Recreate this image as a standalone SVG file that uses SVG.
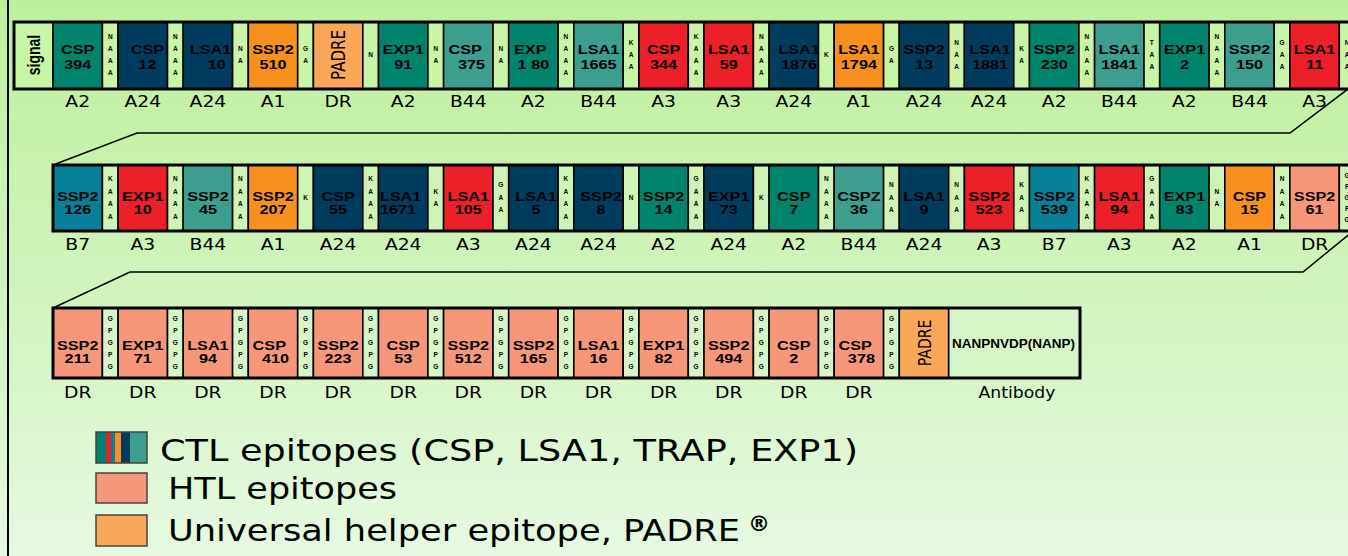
<svg xmlns="http://www.w3.org/2000/svg" width="1348" height="556" viewBox="0 0 1348 556">
<defs>
<linearGradient id="bg" x1="0" y1="0" x2="0" y2="1">
<stop offset="0" stop-color="#bdef9a"/>
<stop offset="0.5" stop-color="#d0f4bc"/>
<stop offset="1" stop-color="#e6f9e2"/>
</linearGradient>
<style>
.c{stroke:#000;stroke-width:1.6}
.teal{fill:#00846e}.lteal{fill:#3b9e8f}.navy{fill:#003c5e}.red{fill:#ec2028}.orange{fill:#f7901e}.padre{fill:#f9a85a}.tblue{fill:#08809a}.salmon{fill:#f7977a}
.s1{fill:#c8f5a6;stroke:#000;stroke-width:1.6}.s2{fill:#cef5b6;stroke:#000;stroke-width:1.6}.s3{fill:#d6f6c8;stroke:#000;stroke-width:1.6}
.frame{fill:none;stroke:#000;stroke-width:3}
.t{font-family:"Liberation Sans",Arial,sans-serif;font-weight:bold;font-size:13px;text-anchor:middle;fill:#000}
.l{font-family:"DejaVu Sans",Verdana,sans-serif;font-size:15px;text-anchor:middle;fill:#000}
.a{font-family:"Liberation Sans",Arial,sans-serif;font-weight:bold;font-size:6.5px;text-anchor:middle;fill:#000}
.v{font-family:"DejaVu Sans",Verdana,sans-serif;font-size:15px;text-anchor:middle;fill:#000}
.lg{font-family:"DejaVu Sans",Verdana,sans-serif;font-size:31px;fill:#000}
.conn{fill:none;stroke:#000;stroke-width:1.5}
</style>
</defs>
<rect x="0" y="0" width="1348" height="556" fill="url(#bg)"/>
<line x1="8" y1="0" x2="8" y2="556" stroke="#000" stroke-width="2"/>

<g id="connectors">
<polyline class="conn" points="1352,86 1290,133 137,133 53,165"/>
<polyline class="conn" points="1352,232 1303,272 130,272 53,308"/>
</g>

<!-- ROW 1 -->
<g id="row1">
<g id="signal"><rect class="s1" x="14" y="22" width="39" height="67"/><text class="t" style="font-size:14px" transform="translate(34.5 55) scale(1.25 1) rotate(-90)" x="0" y="4.5">signal</text></g>
<g id="r1c0"><rect class="c teal" x="53" y="22" width="49.4" height="67"/><text class="t" transform="translate(77.7 0) scale(1.25 1)"><tspan x="0" y="54">CSP</tspan><tspan x="0" y="69">394</tspan></text><text class="l" transform="translate(77.7 0) scale(1.25 1)" x="0" y="107">A2</text></g>
<g id="r1s0"><rect class="s1" x="102.4" y="22" width="15.7" height="67"/><text class="a" x="110.25 110.25 110.25 110.25" y="38.8 50.8 62.8 74.8">NAAA</text></g>
<g id="r1c1"><rect class="c navy" x="118.1" y="22" width="49.4" height="67"/><text class="t" transform="translate(147.5 0) scale(1.25 1)"><tspan x="0" y="54">CSP</tspan><tspan x="0" y="69">12</tspan></text><text class="l" transform="translate(142.8 0) scale(1.25 1)" x="0" y="107">A24</text></g>
<g id="r1s1"><rect class="s1" x="167.5" y="22" width="15.7" height="67"/><text class="a" x="175.35 175.35 175.35 175.35" y="38.8 50.8 62.8 74.8">NAAA</text></g>
<g id="r1c2"><rect class="c navy" x="183.2" y="22" width="49.4" height="67"/><text class="t" transform="translate(210.5 0) scale(1.25 1)"><tspan x="0" y="54">LSA1</tspan><tspan x="5" y="69">10</tspan></text><text class="l" transform="translate(207.9 0) scale(1.25 1)" x="0" y="107">A24</text></g>
<g id="r1s2"><rect class="s1" x="232.6" y="22" width="15.7" height="67"/><text class="a" x="240.45 240.45" y="50.8 62.8">NA</text></g>
<g id="r1c3"><rect class="c orange" x="248.3" y="22" width="49.4" height="67"/><text class="t" transform="translate(273 0) scale(1.25 1)"><tspan x="0" y="54">SSP2</tspan><tspan x="0" y="69">510</tspan></text><text class="l" transform="translate(273 0) scale(1.25 1)" x="0" y="107">A1</text></g>
<g id="r1s3"><rect class="s1" x="297.7" y="22" width="15.7" height="67"/><text class="a" x="305.55 305.55" y="50.8 62.8">GA</text></g>
<g id="r1c4"><rect class="c padre" x="313.4" y="22" width="49.4" height="67"/><text class="v" transform="translate(338.1 55) scale(1.25 1) rotate(-90)" x="0" y="5.4">PADRE</text><text class="l" transform="translate(338.1 0) scale(1.25 1)" x="0" y="107">DR</text></g>
<g id="r1s4"><rect class="s1" x="362.8" y="22" width="15.7" height="67"/><text class="a" x="370.65" y="56.8">N</text></g>
<g id="r1c5"><rect class="c teal" x="378.5" y="22" width="49.4" height="67"/><text class="t" transform="translate(403.2 0) scale(1.25 1)"><tspan x="0" y="54">EXP1</tspan><tspan x="0" y="69">91</tspan></text><text class="l" transform="translate(403.2 0) scale(1.25 1)" x="0" y="107">A2</text></g>
<g id="r1s5"><rect class="s1" x="427.9" y="22" width="15.7" height="67"/><text class="a" x="435.75 435.75" y="50.8 62.8">NA</text></g>
<g id="r1c6"><rect class="c lteal" x="443.6" y="22" width="49.4" height="67"/><text class="t" transform="translate(468.3 0) scale(1.25 1)"><tspan x="-2.5" y="54">CSP</tspan><tspan x="2.5" y="69">375</tspan></text><text class="l" transform="translate(468.3 0) scale(1.25 1)" x="0" y="107">B44</text></g>
<g id="r1s6"><rect class="s1" x="493" y="22" width="15.7" height="67"/><text class="a" x="500.85 500.85" y="50.8 62.8">NA</text></g>
<g id="r1c7"><rect class="c teal" x="508.7" y="22" width="49.4" height="67"/><text class="t" transform="translate(533.4 0) scale(1.25 1)"><tspan x="-2.5" y="54">EXP</tspan><tspan x="0" y="69">1 80</tspan></text><text class="l" transform="translate(533.4 0) scale(1.25 1)" x="0" y="107">A2</text></g>
<g id="r1s7"><rect class="s1" x="558.1" y="22" width="15.7" height="67"/><text class="a" x="565.95 565.95 565.95 565.95" y="38.8 50.8 62.8 74.8">NAAA</text></g>
<g id="r1c8"><rect class="c lteal" x="573.8" y="22" width="49.4" height="67"/><text class="t" transform="translate(598.5 0) scale(1.25 1)"><tspan x="0" y="54">LSA1</tspan><tspan x="0" y="69">1665</tspan></text><text class="l" transform="translate(598.5 0) scale(1.25 1)" x="0" y="107">B44</text></g>
<g id="r1s8"><rect class="s1" x="623.2" y="22" width="15.7" height="67"/><text class="a" x="631.05 631.05 631.05" y="44.8 56.8 68.8">KAA</text></g>
<g id="r1c9"><rect class="c red" x="638.9" y="22" width="49.4" height="67"/><text class="t" transform="translate(663.6 0) scale(1.25 1)"><tspan x="0" y="54">CSP</tspan><tspan x="0" y="69">344</tspan></text><text class="l" transform="translate(663.6 0) scale(1.25 1)" x="0" y="107">A3</text></g>
<g id="r1s9"><rect class="s1" x="688.3" y="22" width="15.7" height="67"/><text class="a" x="696.15 696.15 696.15 696.15" y="38.8 50.8 62.8 74.8">KAAA</text></g>
<g id="r1c10"><rect class="c red" x="704" y="22" width="49.4" height="67"/><text class="t" transform="translate(728.7 0) scale(1.25 1)"><tspan x="0" y="54">LSA1</tspan><tspan x="0" y="69">59</tspan></text><text class="l" transform="translate(728.7 0) scale(1.25 1)" x="0" y="107">A3</text></g>
<g id="r1s10"><rect class="s1" x="753.4" y="22" width="15.7" height="67"/><text class="a" x="761.25 761.25 761.25 761.25" y="38.8 50.8 62.8 74.8">NAAA</text></g>
<g id="r1c11"><rect class="c navy" x="769.1" y="22" width="49.4" height="67"/><text class="t" transform="translate(799 0) scale(1.25 1)"><tspan x="0" y="54">LSA1</tspan><tspan x="0" y="69">1876</tspan></text><text class="l" transform="translate(793.8 0) scale(1.25 1)" x="0" y="107">A24</text></g>
<g id="r1s11"><rect class="s1" x="818.5" y="22" width="15.7" height="67"/><text class="a" x="826.35" y="56.8">K</text></g>
<g id="r1c12"><rect class="c orange" x="834.2" y="22" width="49.4" height="67"/><text class="t" transform="translate(858.9 0) scale(1.25 1)"><tspan x="0" y="54">LSA1</tspan><tspan x="0" y="69">1794</tspan></text><text class="l" transform="translate(858.9 0) scale(1.25 1)" x="0" y="107">A1</text></g>
<g id="r1s12"><rect class="s1" x="883.6" y="22" width="15.7" height="67"/><text class="a" x="891.45 891.45" y="50.8 62.8">GA</text></g>
<g id="r1c13"><rect class="c navy" x="899.3" y="22" width="49.4" height="67"/><text class="t" transform="translate(924 0) scale(1.25 1)"><tspan x="0" y="54">SSP2</tspan><tspan x="0" y="69">13</tspan></text><text class="l" transform="translate(924 0) scale(1.25 1)" x="0" y="107">A24</text></g>
<g id="r1s13"><rect class="s1" x="948.7" y="22" width="15.7" height="67"/><text class="a" x="956.55 956.55 956.55" y="44.8 56.8 68.8">NAA</text></g>
<g id="r1c14"><rect class="c navy" x="964.4" y="22" width="49.4" height="67"/><text class="t" transform="translate(990 0) scale(1.25 1)"><tspan x="0" y="54">LSA1</tspan><tspan x="0" y="69">1881</tspan></text><text class="l" transform="translate(989.1 0) scale(1.25 1)" x="0" y="107">A24</text></g>
<g id="r1s14"><rect class="s1" x="1013.8" y="22" width="15.7" height="67"/><text class="a" x="1021.65 1021.65" y="50.8 62.8">KA</text></g>
<g id="r1c15"><rect class="c teal" x="1029.5" y="22" width="49.4" height="67"/><text class="t" transform="translate(1054.2 0) scale(1.25 1)"><tspan x="0" y="54">SSP2</tspan><tspan x="0" y="69">230</tspan></text><text class="l" transform="translate(1054.2 0) scale(1.25 1)" x="0" y="107">A2</text></g>
<g id="r1s15"><rect class="s1" x="1078.9" y="22" width="15.7" height="67"/><text class="a" x="1086.75 1086.75 1086.75 1086.75" y="38.8 50.8 62.8 74.8">NAAA</text></g>
<g id="r1c16"><rect class="c lteal" x="1094.6" y="22" width="49.4" height="67"/><text class="t" transform="translate(1119.3 0) scale(1.25 1)"><tspan x="0" y="54">LSA1</tspan><tspan x="0" y="69">1841</tspan></text><text class="l" transform="translate(1119.3 0) scale(1.25 1)" x="0" y="107">B44</text></g>
<g id="r1s16"><rect class="s1" x="1144" y="22" width="15.7" height="67"/><text class="a" x="1151.85 1151.85 1151.85" y="44.8 56.8 68.8">TAA</text></g>
<g id="r1c17"><rect class="c teal" x="1159.7" y="22" width="49.4" height="67"/><text class="t" transform="translate(1184.4 0) scale(1.25 1)"><tspan x="0" y="54">EXP1</tspan><tspan x="0" y="69">2</tspan></text><text class="l" transform="translate(1184.4 0) scale(1.25 1)" x="0" y="107">A2</text></g>
<g id="r1s17"><rect class="s1" x="1209.1" y="22" width="15.7" height="67"/><text class="a" x="1216.95 1216.95 1216.95 1216.95" y="38.8 50.8 62.8 74.8">NAAA</text></g>
<g id="r1c18"><rect class="c lteal" x="1224.8" y="22" width="49.4" height="67"/><text class="t" transform="translate(1249.5 0) scale(1.25 1)"><tspan x="0" y="54">SSP2</tspan><tspan x="0" y="69">150</tspan></text><text class="l" transform="translate(1249.5 0) scale(1.25 1)" x="0" y="107">B44</text></g>
<g id="r1s18"><rect class="s1" x="1274.2" y="22" width="15.7" height="67"/><text class="a" x="1282.05 1282.05 1282.05" y="44.8 56.8 68.8">GAA</text></g>
<g id="r1c19"><rect class="c red" x="1289.9" y="22" width="49.4" height="67"/><text class="t" transform="translate(1314.6 0) scale(1.25 1)"><tspan x="0" y="54">LSA1</tspan><tspan x="0" y="69">11</tspan></text><text class="l" transform="translate(1314.6 0) scale(1.25 1)" x="0" y="107">A3</text></g>
<g id="r1s19"><rect class="s1" x="1339.3" y="22" width="15.7" height="67"/><text class="a" x="1347.15 1347.15 1347.15" y="44.8 56.8 68.8">NAA</text></g>
<rect class="frame" x="14" y="22" width="1345" height="67"/>
</g>

<!-- ROW 2 -->
<g id="row2">
<g id="r2c0"><rect class="c tblue" x="53" y="165" width="49.4" height="66"/><text class="t" transform="translate(77.7 0) scale(1.25 1)"><tspan x="0" y="201">SSP2</tspan><tspan x="0" y="214">126</tspan></text><text class="l" transform="translate(77.7 0) scale(1.25 1)" x="0" y="250">B7</text></g>
<g id="r2s0"><rect class="s2" x="102.4" y="165" width="15.7" height="66"/><text class="a" x="110.25 110.25 110.25 110.25" y="181.05 193.55 206.05 218.55">KAAA</text></g>
<g id="r2c1"><rect class="c red" x="118.1" y="165" width="49.4" height="66"/><text class="t" transform="translate(142.8 0) scale(1.25 1)"><tspan x="0" y="201">EXP1</tspan><tspan x="0" y="214">10</tspan></text><text class="l" transform="translate(142.8 0) scale(1.25 1)" x="0" y="250">A3</text></g>
<g id="r2s1"><rect class="s2" x="167.5" y="165" width="15.7" height="66"/><text class="a" x="175.35 175.35 175.35 175.35" y="181.05 193.55 206.05 218.55">NAAA</text></g>
<g id="r2c2"><rect class="c lteal" x="183.2" y="165" width="49.4" height="66"/><text class="t" transform="translate(207.9 0) scale(1.25 1)"><tspan x="0" y="201">SSP2</tspan><tspan x="0" y="214">45</tspan></text><text class="l" transform="translate(207.9 0) scale(1.25 1)" x="0" y="250">B44</text></g>
<g id="r2s2"><rect class="s2" x="232.6" y="165" width="15.7" height="66"/><text class="a" x="240.45 240.45 240.45 240.45" y="181.05 193.55 206.05 218.55">NAAA</text></g>
<g id="r2c3"><rect class="c orange" x="248.3" y="165" width="49.4" height="66"/><text class="t" transform="translate(273 0) scale(1.25 1)"><tspan x="0" y="201">SSP2</tspan><tspan x="0" y="214">207</tspan></text><text class="l" transform="translate(273 0) scale(1.25 1)" x="0" y="250">A1</text></g>
<g id="r2s3"><rect class="s2" x="297.7" y="165" width="15.7" height="66"/><text class="a" x="305.55" y="199.8">K</text></g>
<g id="r2c4"><rect class="c navy" x="313.4" y="165" width="49.4" height="66"/><text class="t" transform="translate(338.1 0) scale(1.25 1)"><tspan x="0" y="201">CSP</tspan><tspan x="0" y="214">55</tspan></text><text class="l" transform="translate(338.1 0) scale(1.25 1)" x="0" y="250">A24</text></g>
<g id="r2s4"><rect class="s2" x="362.8" y="165" width="15.7" height="66"/><text class="a" x="370.65 370.65 370.65 370.65" y="181.05 193.55 206.05 218.55">KAAA</text></g>
<g id="r2c5"><rect class="c navy" x="378.5" y="165" width="49.4" height="66"/><text class="t" transform="translate(400.5 0) scale(1.25 1)"><tspan x="0" y="201">LSA1</tspan><tspan x="-2" y="214">1671</tspan></text><text class="l" transform="translate(403.2 0) scale(1.25 1)" x="0" y="250">A24</text></g>
<g id="r2s5"><rect class="s2" x="427.9" y="165" width="15.7" height="66"/><text class="a" x="435.75 435.75" y="193.55 206.05">KA</text></g>
<g id="r2c6"><rect class="c red" x="443.6" y="165" width="49.4" height="66"/><text class="t" transform="translate(468.3 0) scale(1.25 1)"><tspan x="0" y="201">LSA1</tspan><tspan x="0" y="214">105</tspan></text><text class="l" transform="translate(468.3 0) scale(1.25 1)" x="0" y="250">A3</text></g>
<g id="r2s6"><rect class="s2" x="493" y="165" width="15.7" height="66"/><text class="a" x="500.85 500.85 500.85" y="187.3 199.8 212.3">GAA</text></g>
<g id="r2c7"><rect class="c navy" x="508.7" y="165" width="49.4" height="66"/><text class="t" transform="translate(536 0) scale(1.25 1)"><tspan x="0" y="201">LSA1</tspan><tspan x="0" y="214">5</tspan></text><text class="l" transform="translate(533.4 0) scale(1.25 1)" x="0" y="250">A24</text></g>
<g id="r2s7"><rect class="s2" x="558.1" y="165" width="15.7" height="66"/><text class="a" x="565.95 565.95 565.95 565.95" y="181.05 193.55 206.05 218.55">KAAA</text></g>
<g id="r2c8"><rect class="c navy" x="573.8" y="165" width="49.4" height="66"/><text class="t" transform="translate(601 0) scale(1.25 1)"><tspan x="0" y="201">SSP2</tspan><tspan x="0" y="214">8</tspan></text><text class="l" transform="translate(598.5 0) scale(1.25 1)" x="0" y="250">A24</text></g>
<g id="r2s8"><rect class="s2" x="623.2" y="165" width="15.7" height="66"/><text class="a" x="631.05" y="199.8">N</text></g>
<g id="r2c9"><rect class="c teal" x="638.9" y="165" width="49.4" height="66"/><text class="t" transform="translate(663.6 0) scale(1.25 1)"><tspan x="0" y="201">SSP2</tspan><tspan x="0" y="214">14</tspan></text><text class="l" transform="translate(663.6 0) scale(1.25 1)" x="0" y="250">A2</text></g>
<g id="r2s9"><rect class="s2" x="688.3" y="165" width="15.7" height="66"/><text class="a" x="696.15 696.15 696.15 696.15" y="181.05 193.55 206.05 218.55">GAAA</text></g>
<g id="r2c10"><rect class="c navy" x="704" y="165" width="49.4" height="66"/><text class="t" transform="translate(728.7 0) scale(1.25 1)"><tspan x="0" y="201">EXP1</tspan><tspan x="0" y="214">73</tspan></text><text class="l" transform="translate(728.7 0) scale(1.25 1)" x="0" y="250">A24</text></g>
<g id="r2s10"><rect class="s2" x="753.4" y="165" width="15.7" height="66"/><text class="a" x="761.25" y="199.8">K</text></g>
<g id="r2c11"><rect class="c teal" x="769.1" y="165" width="49.4" height="66"/><text class="t" transform="translate(793.8 0) scale(1.25 1)"><tspan x="0" y="201">CSP</tspan><tspan x="0" y="214">7</tspan></text><text class="l" transform="translate(793.8 0) scale(1.25 1)" x="0" y="250">A2</text></g>
<g id="r2s11"><rect class="s2" x="818.5" y="165" width="15.7" height="66"/><text class="a" x="826.35 826.35 826.35 826.35" y="181.05 193.55 206.05 218.55">NAAA</text></g>
<g id="r2c12"><rect class="c lteal" x="834.2" y="165" width="49.4" height="66"/><text class="t" transform="translate(858.9 0) scale(1.25 1)"><tspan x="0" y="201">CSPZ</tspan><tspan x="0" y="214">36</tspan></text><text class="l" transform="translate(858.9 0) scale(1.25 1)" x="0" y="250">B44</text></g>
<g id="r2s12"><rect class="s2" x="883.6" y="165" width="15.7" height="66"/><text class="a" x="891.45 891.45 891.45" y="187.3 199.8 212.3">NAA</text></g>
<g id="r2c13"><rect class="c navy" x="899.3" y="165" width="49.4" height="66"/><text class="t" transform="translate(924 0) scale(1.25 1)"><tspan x="0" y="201">LSA1</tspan><tspan x="0" y="214">9</tspan></text><text class="l" transform="translate(924 0) scale(1.25 1)" x="0" y="250">A24</text></g>
<g id="r2s13"><rect class="s2" x="948.7" y="165" width="15.7" height="66"/><text class="a" x="956.55 956.55 956.55" y="187.3 199.8 212.3">NAA</text></g>
<g id="r2c14"><rect class="c red" x="964.4" y="165" width="49.4" height="66"/><text class="t" transform="translate(989.1 0) scale(1.25 1)"><tspan x="0" y="201">SSP2</tspan><tspan x="0" y="214">523</tspan></text><text class="l" transform="translate(989.1 0) scale(1.25 1)" x="0" y="250">A3</text></g>
<g id="r2s14"><rect class="s2" x="1013.8" y="165" width="15.7" height="66"/><text class="a" x="1021.65 1021.65 1021.65" y="187.3 199.8 212.3">KAA</text></g>
<g id="r2c15"><rect class="c tblue" x="1029.5" y="165" width="49.4" height="66"/><text class="t" transform="translate(1054.2 0) scale(1.25 1)"><tspan x="0" y="201">SSP2</tspan><tspan x="0" y="214">539</tspan></text><text class="l" transform="translate(1054.2 0) scale(1.25 1)" x="0" y="250">B7</text></g>
<g id="r2s15"><rect class="s2" x="1078.9" y="165" width="15.7" height="66"/><text class="a" x="1086.75 1086.75 1086.75 1086.75" y="181.05 193.55 206.05 218.55">KAAA</text></g>
<g id="r2c16"><rect class="c red" x="1094.6" y="165" width="49.4" height="66"/><text class="t" transform="translate(1119.3 0) scale(1.25 1)"><tspan x="0" y="201">LSA1</tspan><tspan x="0" y="214">94</tspan></text><text class="l" transform="translate(1119.3 0) scale(1.25 1)" x="0" y="250">A3</text></g>
<g id="r2s16"><rect class="s2" x="1144" y="165" width="15.7" height="66"/><text class="a" x="1151.85 1151.85 1151.85 1151.85" y="181.05 193.55 206.05 218.55">GAAA</text></g>
<g id="r2c17"><rect class="c teal" x="1159.7" y="165" width="49.4" height="66"/><text class="t" transform="translate(1184.4 0) scale(1.25 1)"><tspan x="0" y="201">EXP1</tspan><tspan x="0" y="214">83</tspan></text><text class="l" transform="translate(1184.4 0) scale(1.25 1)" x="0" y="250">A2</text></g>
<g id="r2s17"><rect class="s2" x="1209.1" y="165" width="15.7" height="66"/><text class="a" x="1216.95 1216.95" y="193.55 206.05">NA</text></g>
<g id="r2c18"><rect class="c orange" x="1224.8" y="165" width="49.4" height="66"/><text class="t" transform="translate(1249.5 0) scale(1.25 1)"><tspan x="0" y="201">CSP</tspan><tspan x="0" y="214">15</tspan></text><text class="l" transform="translate(1249.5 0) scale(1.25 1)" x="0" y="250">A1</text></g>
<g id="r2s18"><rect class="s2" x="1274.2" y="165" width="15.7" height="66"/><text class="a" x="1282.05 1282.05 1282.05 1282.05" y="181.05 193.55 206.05 218.55">NAAA</text></g>
<g id="r2c19"><rect class="c salmon" x="1289.9" y="165" width="49.4" height="66"/><text class="t" transform="translate(1314.6 0) scale(1.25 1)"><tspan x="0" y="201">SSP2</tspan><tspan x="0" y="214">61</tspan></text><text class="l" transform="translate(1314.6 0) scale(1.25 1)" x="0" y="250">DR</text></g>
<g id="r2s19"><rect class="s2" x="1339.3" y="165" width="15.7" height="66"/><text class="a" x="1347.15 1347.15 1347.15 1347.15 1347.15" y="177.8 188.8 199.8 210.8 221.8">GPGPG</text></g>
<rect class="frame" x="53" y="165" width="1306" height="66"/>
</g>

<!-- ROW 3 -->
<g id="row3">
<g id="r3c0"><rect class="c salmon" x="53" y="308" width="49.4" height="70"/><text class="t" transform="translate(77.7 0) scale(1.25 1)"><tspan x="0" y="350">SSP2</tspan><tspan x="0" y="363.5">211</tspan></text><text class="l" transform="translate(77.7 0) scale(1.25 1)" x="0" y="398">DR</text></g>
<g id="r3s0"><rect class="s3" x="102.4" y="308" width="15.7" height="70"/><text class="a" x="110.25 110.25 110.25 110.25 110.25" y="320.8 332.8 344.8 356.8 368.8">GPGPG</text></g>
<g id="r3c1"><rect class="c salmon" x="118.1" y="308" width="49.4" height="70"/><text class="t" transform="translate(142.8 0) scale(1.25 1)"><tspan x="0" y="350">EXP1</tspan><tspan x="0" y="363.5">71</tspan></text><text class="l" transform="translate(142.8 0) scale(1.25 1)" x="0" y="398">DR</text></g>
<g id="r3s1"><rect class="s3" x="167.5" y="308" width="15.7" height="70"/><text class="a" x="175.35 175.35 175.35 175.35 175.35" y="320.8 332.8 344.8 356.8 368.8">GPGPG</text></g>
<g id="r3c2"><rect class="c salmon" x="183.2" y="308" width="49.4" height="70"/><text class="t" transform="translate(207.9 0) scale(1.25 1)"><tspan x="0" y="350">LSA1</tspan><tspan x="0" y="363.5">94</tspan></text><text class="l" transform="translate(207.9 0) scale(1.25 1)" x="0" y="398">DR</text></g>
<g id="r3s2"><rect class="s3" x="232.6" y="308" width="15.7" height="70"/><text class="a" x="240.45 240.45 240.45 240.45 240.45" y="320.8 332.8 344.8 356.8 368.8">GPGPG</text></g>
<g id="r3c3"><rect class="c salmon" x="248.3" y="308" width="49.4" height="70"/><text class="t" transform="translate(273 0) scale(1.25 1)"><tspan x="-3" y="350">CSP</tspan><tspan x="2" y="363.5">410</tspan></text><text class="l" transform="translate(273 0) scale(1.25 1)" x="0" y="398">DR</text></g>
<g id="r3s3"><rect class="s3" x="297.7" y="308" width="15.7" height="70"/><text class="a" x="305.55 305.55 305.55 305.55 305.55" y="320.8 332.8 344.8 356.8 368.8">GPGPG</text></g>
<g id="r3c4"><rect class="c salmon" x="313.4" y="308" width="49.4" height="70"/><text class="t" transform="translate(338.1 0) scale(1.25 1)"><tspan x="0" y="350">SSP2</tspan><tspan x="0" y="363.5">223</tspan></text><text class="l" transform="translate(338.1 0) scale(1.25 1)" x="0" y="398">DR</text></g>
<g id="r3s4"><rect class="s3" x="362.8" y="308" width="15.7" height="70"/><text class="a" x="370.65 370.65 370.65 370.65 370.65" y="320.8 332.8 344.8 356.8 368.8">GPGPG</text></g>
<g id="r3c5"><rect class="c salmon" x="378.5" y="308" width="49.4" height="70"/><text class="t" transform="translate(403.2 0) scale(1.25 1)"><tspan x="0" y="350">CSP</tspan><tspan x="0" y="363.5">53</tspan></text><text class="l" transform="translate(403.2 0) scale(1.25 1)" x="0" y="398">DR</text></g>
<g id="r3s5"><rect class="s3" x="427.9" y="308" width="15.7" height="70"/><text class="a" x="435.75 435.75 435.75 435.75 435.75" y="320.8 332.8 344.8 356.8 368.8">GPGPG</text></g>
<g id="r3c6"><rect class="c salmon" x="443.6" y="308" width="49.4" height="70"/><text class="t" transform="translate(468.3 0) scale(1.25 1)"><tspan x="0" y="350">SSP2</tspan><tspan x="0" y="363.5">512</tspan></text><text class="l" transform="translate(468.3 0) scale(1.25 1)" x="0" y="398">DR</text></g>
<g id="r3s6"><rect class="s3" x="493" y="308" width="15.7" height="70"/><text class="a" x="500.85 500.85 500.85 500.85 500.85" y="320.8 332.8 344.8 356.8 368.8">GPGPG</text></g>
<g id="r3c7"><rect class="c salmon" x="508.7" y="308" width="49.4" height="70"/><text class="t" transform="translate(533.4 0) scale(1.25 1)"><tspan x="0" y="350">SSP2</tspan><tspan x="0" y="363.5">165</tspan></text><text class="l" transform="translate(533.4 0) scale(1.25 1)" x="0" y="398">DR</text></g>
<g id="r3s7"><rect class="s3" x="558.1" y="308" width="15.7" height="70"/><text class="a" x="565.95 565.95 565.95 565.95 565.95" y="320.8 332.8 344.8 356.8 368.8">GPGPG</text></g>
<g id="r3c8"><rect class="c salmon" x="573.8" y="308" width="49.4" height="70"/><text class="t" transform="translate(598.5 0) scale(1.25 1)"><tspan x="0" y="350">LSA1</tspan><tspan x="0" y="363.5">16</tspan></text><text class="l" transform="translate(598.5 0) scale(1.25 1)" x="0" y="398">DR</text></g>
<g id="r3s8"><rect class="s3" x="623.2" y="308" width="15.7" height="70"/><text class="a" x="631.05 631.05 631.05 631.05 631.05" y="320.8 332.8 344.8 356.8 368.8">GPGPG</text></g>
<g id="r3c9"><rect class="c salmon" x="638.9" y="308" width="49.4" height="70"/><text class="t" transform="translate(663.6 0) scale(1.25 1)"><tspan x="0" y="350">EXP1</tspan><tspan x="0" y="363.5">82</tspan></text><text class="l" transform="translate(663.6 0) scale(1.25 1)" x="0" y="398">DR</text></g>
<g id="r3s9"><rect class="s3" x="688.3" y="308" width="15.7" height="70"/><text class="a" x="696.15 696.15 696.15 696.15 696.15" y="320.8 332.8 344.8 356.8 368.8">GPGPG</text></g>
<g id="r3c10"><rect class="c salmon" x="704" y="308" width="49.4" height="70"/><text class="t" transform="translate(728.7 0) scale(1.25 1)"><tspan x="0" y="350">SSP2</tspan><tspan x="0" y="363.5">494</tspan></text><text class="l" transform="translate(728.7 0) scale(1.25 1)" x="0" y="398">DR</text></g>
<g id="r3s10"><rect class="s3" x="753.4" y="308" width="15.7" height="70"/><text class="a" x="761.25 761.25 761.25 761.25 761.25" y="320.8 332.8 344.8 356.8 368.8">GPGPG</text></g>
<g id="r3c11"><rect class="c salmon" x="769.1" y="308" width="49.4" height="70"/><text class="t" transform="translate(793.8 0) scale(1.25 1)"><tspan x="0" y="350">CSP</tspan><tspan x="0" y="363.5">2</tspan></text><text class="l" transform="translate(793.8 0) scale(1.25 1)" x="0" y="398">DR</text></g>
<g id="r3s11"><rect class="s3" x="818.5" y="308" width="15.7" height="70"/><text class="a" x="826.35 826.35 826.35 826.35 826.35" y="320.8 332.8 344.8 356.8 368.8">GPGPG</text></g>
<g id="r3c12"><rect class="c salmon" x="834.2" y="308" width="49.4" height="70"/><text class="t" transform="translate(858.9 0) scale(1.25 1)"><tspan x="-3" y="350">CSP</tspan><tspan x="2" y="363.5">378</tspan></text><text class="l" transform="translate(858.9 0) scale(1.25 1)" x="0" y="398">DR</text></g>
<g id="r3s12"><rect class="s3" x="883.6" y="308" width="15.7" height="70"/><text class="a" x="891.45 891.45 891.45 891.45 891.45" y="320.8 332.8 344.8 356.8 368.8">GPGPG</text></g>
<g id="r3c13"><rect class="c padre" x="899.3" y="308" width="49.4" height="70"/><text class="v" transform="translate(924 343) scale(1.25 1) rotate(-90)" x="0" y="5.2" style="font-size:14px">PADRE</text></g>
<g id="antibody"><rect class="s3" x="948.7" y="308" width="131.3" height="70"/><text class="t" x="1013.5" y="348" textLength="123" lengthAdjust="spacingAndGlyphs" style="font-size:12.5px">NANPNVDP(NANP)</text><text class="v" transform="translate(1017 0) scale(1.15 1)" x="0" y="398">Antibody</text></g>
<rect class="frame" x="53" y="308" width="1027" height="70"/>
</g>

<!-- LEGEND -->
<g id="legend-ctl">
<rect x="96" y="432" width="10" height="31" fill="#00846e"/>
<rect x="106" y="432" width="5" height="31" fill="#ec2028"/>
<rect x="111" y="432" width="4" height="31" fill="#08809a"/>
<rect x="115" y="432" width="6" height="31" fill="#f7901e"/>
<rect x="121" y="432" width="9" height="31" fill="#003c5e"/>
<rect x="130" y="432" width="17" height="31" fill="#3b9e8f"/>
<rect x="96" y="432" width="51" height="31" fill="none" stroke="#444" stroke-width="1.5"/>
<text class="lg" x="160" y="461" textLength="698" lengthAdjust="spacingAndGlyphs">CTL epitopes (CSP, LSA1, TRAP, EXP1)</text>
</g>
<g id="legend-htl">
<rect x="96" y="473" width="51" height="30" fill="#f7977a" stroke="#444" stroke-width="1.5"/>
<text class="lg" x="168" y="499" textLength="229" lengthAdjust="spacingAndGlyphs">HTL epitopes</text>
</g>
<g id="legend-padre">
<rect x="96" y="515" width="51" height="31" fill="#f9a85a" stroke="#444" stroke-width="1.5"/>
<text class="lg" x="168" y="541" textLength="572" lengthAdjust="spacingAndGlyphs">Universal helper epitope, PADRE</text>
<text x="748" y="531" style="font-family:'DejaVu Sans',sans-serif;font-weight:bold;font-size:22px;fill:#000">®</text>
</g>
</svg>
